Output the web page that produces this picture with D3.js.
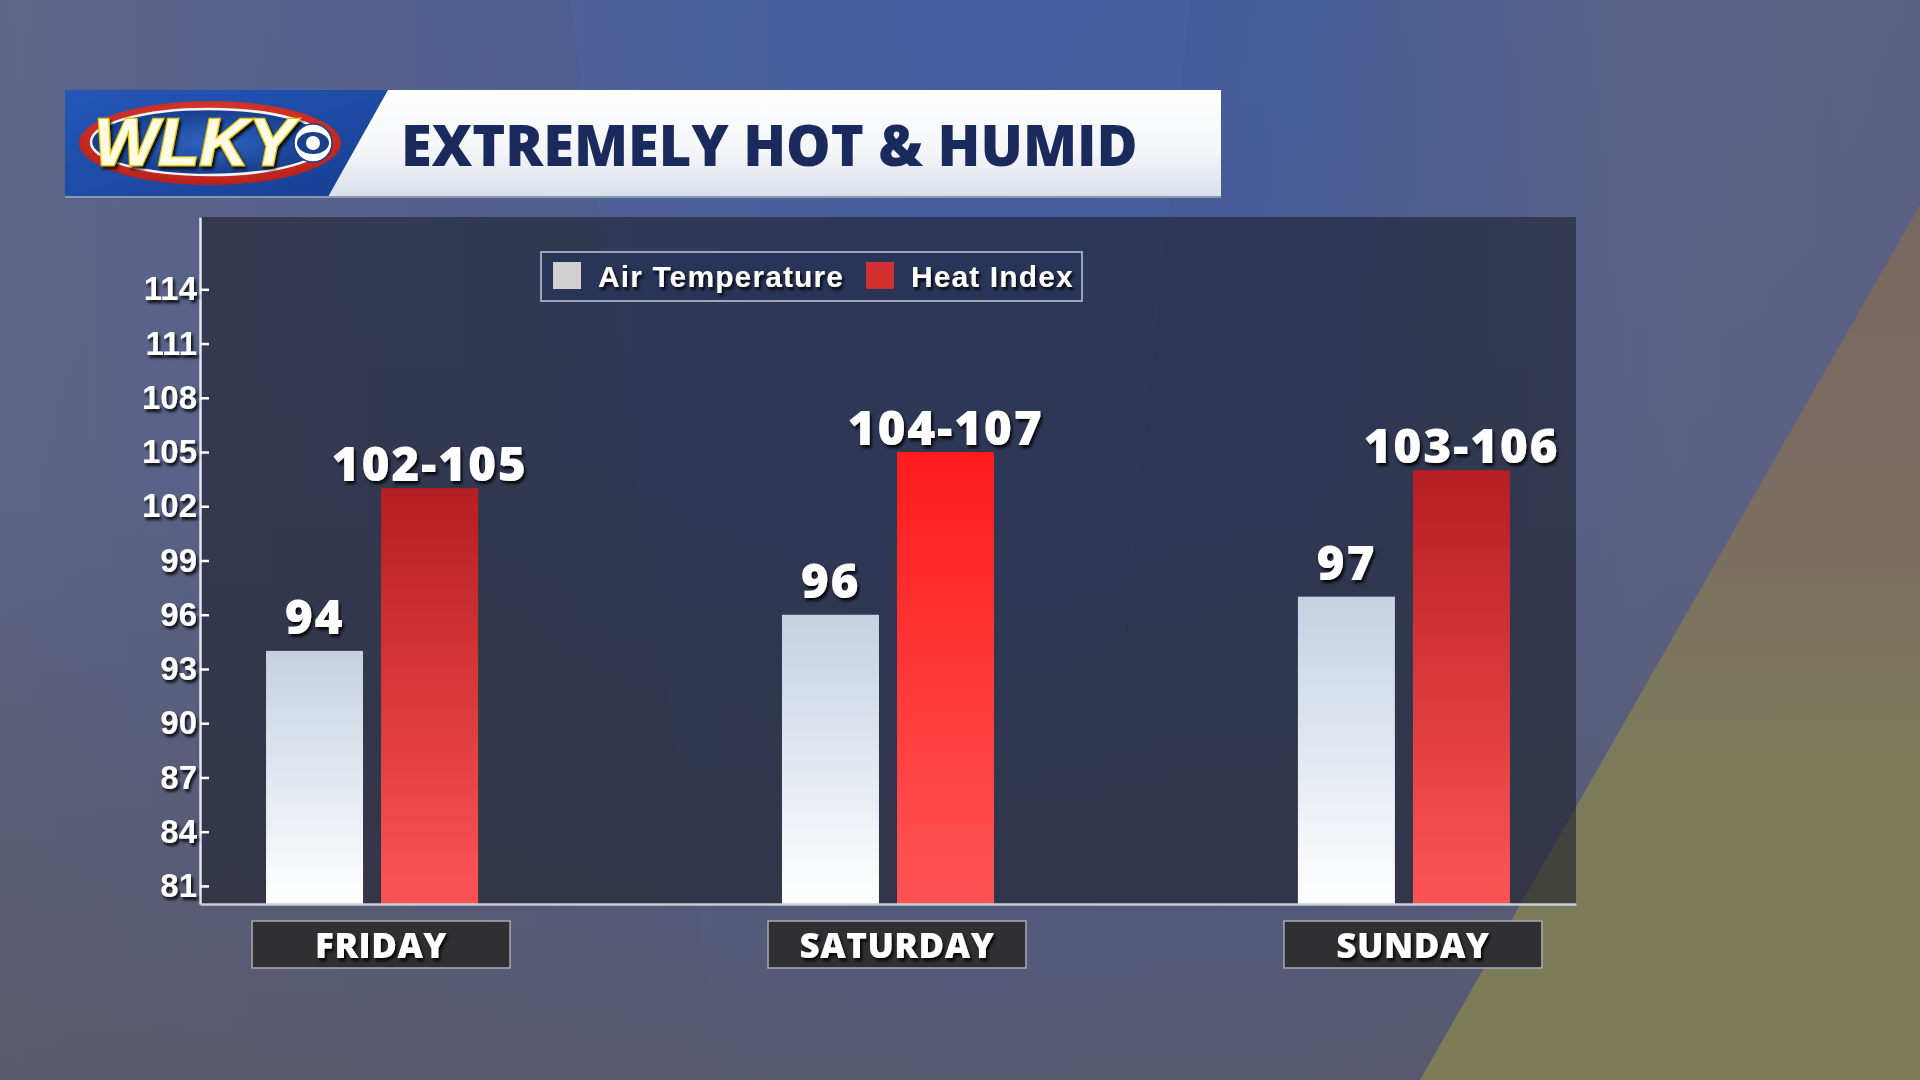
<!DOCTYPE html>
<html>
<head>
<meta charset="utf-8">
<script src="https://cdn.jsdelivr.net/npm/d3@7"></script>
<style>
  html,body{margin:0;padding:0;background:#50608a;}
  svg{display:block;}
</style>
</head>
<body>
<svg id="chart" width="1920" height="1080"></svg>
<script>
// ---------------- DATA ----------------
const titleText = "EXTREMELY HOT & HUMID";
const days = ["FRIDAY", "SATURDAY", "SUNDAY"];
const seriesNames = ["Air Temperature", "Heat Index"];
const airTemp = [94, 96, 97];
const heatIndex = [103, 105, 104];
const airTempLabels = ["94", "96", "97"];
const heatIndexLabels = ["102-105", "104-107", "103-106"];
const yTickValues = [81, 84, 87, 90, 93, 96, 99, 102, 105, 108, 111, 114];
const yDomain = [80, 118];

// ---------------- STYLES ----------------
const heatTopColors = ["#b51e22", "#ff1c1c", "#b51e22"];
const heatBottomColor = "#ff5454";
const airTopColor = "#c5d1e1";
const airBottomColor = "#ffffff";

const svg = d3.select("#chart");
const defs = svg.append("defs");

const f = defs.append("filter").attr("id", "shadow").attr("x", "-20%").attr("y", "-20%").attr("width", "140%").attr("height", "150%");
f.append("feDropShadow").attr("dx", 2).attr("dy", 3).attr("stdDeviation", 1.6)
  .attr("flood-color", "#000").attr("flood-opacity", 0.85);

function lin(id, x1, y1, x2, y2, stops) {
  const g = defs.append("linearGradient").attr("id", id)
    .attr("x1", x1).attr("y1", y1).attr("x2", x2).attr("y2", y2);
  stops.forEach(s => g.append("stop").attr("offset", s[0]).attr("stop-color", s[1]).attr("stop-opacity", s[2] === undefined ? 1 : s[2]));
  return g;
}
lin("bgH", 0, 0, 1, 0, [[0, "#5d6587"], [0.3, "#4f5f92"], [0.5, "#42599c"], [0.68, "#475d98"], [0.85, "#596388"], [1, "#5b6184"]]);
lin("bgV", 0, 0, 0, 1, [[0, "#5a5666", 0], [0.45, "#5a5666", 0.1], [1, "#5a5868", 0.85]]);
lin("olive", 0, 0, 0, 1, [[0, "#7a6762"], [0.35, "#7b6d60"], [0.6, "#7b7a5c"], [1, "#7c7c56"]]);
lin("bannerWhite", 0, 0, 0, 1, [[0, "#ffffff"], [0.6, "#f3f5f8"], [1, "#d9dfe9"]]);
lin("bannerBlue", 0, 0, 1, 1, [[0, "#2457b8"], [1, "#173f92"]]);
lin("airGrad", 0, 0, 0, 1, [[0, airTopColor], [1, airBottomColor]]);
heatTopColors.forEach((c, i) => lin("heatGrad" + i, 0, 0, 0, 1, [[0, c], [1, heatBottomColor]]));
const rg = defs.append("radialGradient").attr("id", "ovalRed").attr("cx", 0.5).attr("cy", 0.4).attr("r", 0.6);
rg.append("stop").attr("offset", 0).attr("stop-color", "#f05040");
rg.append("stop").attr("offset", 1).attr("stop-color", "#b8201a");
const rb = defs.append("radialGradient").attr("id", "ovalBlue").attr("cx", 0.5).attr("cy", 0.5).attr("r", 0.6);
rb.append("stop").attr("offset", 0).attr("stop-color", "#2f63c0");
rb.append("stop").attr("offset", 1).attr("stop-color", "#123780");

// background
svg.append("rect").attr("width", 1920).attr("height", 1080).attr("fill", "url(#bgH)");
svg.append("polygon").attr("points", "570,0 1190,0 1080,1080 720,1080").attr("fill", "#4c68aa").attr("opacity", 0.3);
svg.append("rect").attr("width", 1920).attr("height", 1080).attr("fill", "url(#bgV)");
svg.append("polygon").attr("points", "1920,205 1920,1080 1420,1080").attr("fill", "url(#olive)");

// ---------------- BANNER ----------------
svg.append("polygon").attr("points", "65,90 388,90 328,197 65,197").attr("fill", "url(#bannerBlue)");
svg.append("polygon").attr("points", "388,90 1221,90 1221,197 328,197").attr("fill", "url(#bannerWhite)");
svg.append("line").attr("x1", 65).attr("x2", 1221).attr("y1", 197).attr("y2", 197).attr("stroke", "#8d96ad").attr("stroke-width", 2);

const logo = svg.append("g");
logo.append("ellipse").attr("cx", 210).attr("cy", 143).attr("rx", 131).attr("ry", 42).attr("fill", "url(#ovalRed)");
logo.append("ellipse").attr("cx", 209).attr("cy", 142).attr("rx", 118).attr("ry", 33).attr("fill", "url(#ovalBlue)").attr("stroke", "#f4f4f4").attr("stroke-width", 2.5);
logo.append("text").attr("x", 94).attr("y", 165).text("WLKY")
  .attr("font-family", "Liberation Sans, Arial, sans-serif").attr("font-weight", 700).attr("font-style", "italic")
  .attr("font-size", 66).attr("fill", "#fffbe2").attr("stroke", "#e6c400").attr("stroke-width", 2.5)
  .attr("paint-order", "stroke").attr("filter", "url(#shadow)").attr("textLength", 200).attr("lengthAdjust", "spacingAndGlyphs");
logo.append("circle").attr("cx", 313).attr("cy", 143).attr("r", 19).attr("fill", "#ffffff").attr("stroke", "#1b3f8a").attr("stroke-width", 1.5);
logo.append("ellipse").attr("cx", 313).attr("cy", 143).attr("rx", 16).attr("ry", 11).attr("fill", "#1b3f8a");
logo.append("circle").attr("cx", 313).attr("cy", 143).attr("r", 7).attr("fill", "#ffffff");

svg.append("text").attr("x", 401).attr("y", 166).text(titleText)
  .attr("font-family", "Open Sans, sans-serif").attr("font-weight", 800).attr("font-size", 56)
  .attr("letter-spacing", 0).attr("fill", "#1b2a5c");

// ---------------- CHART ----------------
const plotL = 200, plotR = 1576, plotT = 217, plotB = 904;
svg.append("rect").attr("x", plotL).attr("y", plotT).attr("width", plotR - plotL).attr("height", plotB - plotT)
  .attr("fill", "#1c1e2a").attr("opacity", 0.6);

const x0 = d3.scaleBand().domain(days).range([plotL, plotR]).paddingInner(0.589).paddingOuter(0.128);
const x1 = d3.scaleBand().domain(seriesNames).range([0, x0.bandwidth()]).paddingInner(0.157);
const y = d3.scaleLinear().domain(yDomain).range([plotB, plotT]);

const rows = days.map((d, i) => ({
  day: d, i,
  vals: [
    { s: seriesNames[0], v: airTemp[i], label: airTempLabels[i], fill: "url(#airGrad)", off: 17 },
    { s: seriesNames[1], v: heatIndex[i], label: heatIndexLabels[i], fill: "url(#heatGrad" + i + ")", off: 7 }
  ]
}));

const groups = svg.append("g").selectAll("g").data(rows).join("g")
  .attr("transform", d => `translate(${x0(d.day)},0)`);

groups.selectAll("rect").data(d => d.vals).join("rect")
  .attr("x", d => x1(d.s)).attr("width", x1.bandwidth())
  .attr("y", d => y(d.v)).attr("height", d => y(yDomain[0]) - y(d.v))
  .attr("fill", d => d.fill);

groups.selectAll("text").data(d => d.vals).join("text")
  .attr("x", d => x1(d.s) + x1.bandwidth() / 2).attr("y", d => y(d.v) - d.off)
  .attr("text-anchor", "middle").text(d => d.label)
  .attr("font-family", "Open Sans, sans-serif").attr("font-weight", 800).attr("font-size", 48)
  .attr("letter-spacing", 1.7).attr("fill", "#ffffff").attr("filter", "url(#shadow)");

const yAxis = svg.append("g").attr("transform", `translate(${plotL},0)`)
  .call(d3.axisLeft(y).tickValues(yTickValues).tickSizeInner(-9).tickSizeOuter(0).tickPadding(3));
yAxis.select(".domain").attr("stroke", "#e4e7ee").attr("stroke-width", 2.5);
yAxis.selectAll(".tick line").attr("stroke", "#ffffff").attr("stroke-width", 2.5);
yAxis.selectAll(".tick text").attr("font-family", "Liberation Sans, Arial, sans-serif").attr("font-weight", 700)
  .attr("font-size", 33).attr("fill", "#ffffff").attr("letter-spacing", 0).attr("filter", "url(#shadow)");

const xAxis = svg.append("g").attr("transform", `translate(0,${plotB})`)
  .call(d3.axisBottom(x0).tickSize(0).tickFormat(""));
xAxis.select(".domain").attr("stroke", "#c9cdd6").attr("stroke-width", 2.5);

const dayG = svg.append("g").selectAll("g").data(days).join("g")
  .attr("transform", d => `translate(${x0(d) + x0.bandwidth() / 2 + 9},0)`);
dayG.append("rect").attr("x", -129).attr("y", 921).attr("width", 258).attr("height", 47)
  .attr("fill", "#303033").attr("stroke", "#a7abb3").attr("stroke-width", 1.5);
dayG.append("text").attr("x", 0).attr("y", 958).attr("text-anchor", "middle").text(d => d)
  .attr("font-family", "Open Sans, sans-serif").attr("font-weight", 800).attr("font-size", 35)
  .attr("letter-spacing", 0.5).attr("fill", "#ffffff").attr("filter", "url(#shadow)");

const lg = svg.append("g");
lg.append("rect").attr("x", 541).attr("y", 252).attr("width", 541).attr("height", 49)
  .attr("fill", "#22345a").attr("fill-opacity", 0.45).attr("stroke", "#9aa3b8").attr("stroke-width", 2);
const legendItems = [
  { name: seriesNames[0], color: "#d0d0d0", sx: 553, tx: 598 },
  { name: seriesNames[1], color: "#d32f2f", sx: 866, tx: 911 }
];
legendItems.forEach(it => {
  lg.append("rect").attr("x", it.sx).attr("y", 262).attr("width", 28).attr("height", 27).attr("fill", it.color);
  lg.append("text").attr("x", it.tx).attr("y", 287).text(it.name)
    .attr("font-family", "Liberation Sans, Arial, sans-serif").attr("font-weight", 700).attr("font-size", 30)
    .attr("letter-spacing", 1.1).attr("fill", "#ffffff").attr("filter", "url(#shadow)");
});
</script>
</body>
</html>
